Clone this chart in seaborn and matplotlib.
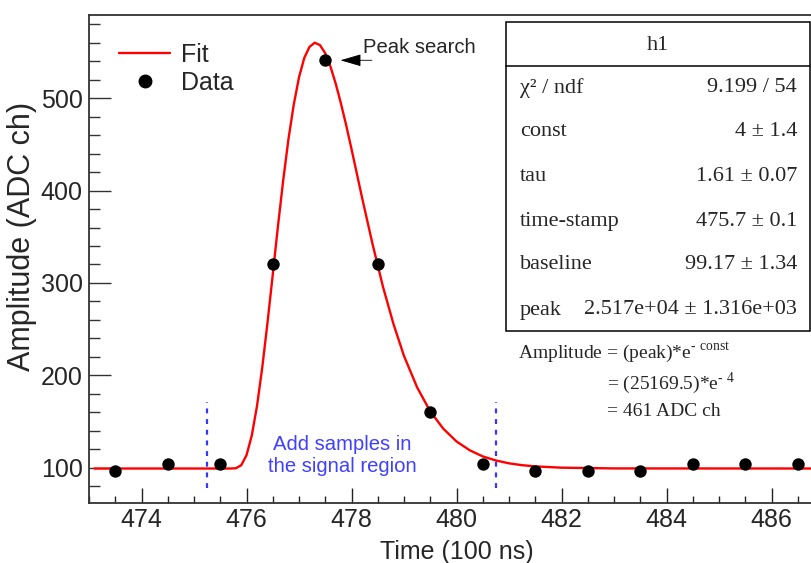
import matplotlib
matplotlib.use("Agg")
import matplotlib.pyplot as plt
import seaborn as sns
from matplotlib.patches import Rectangle
from matplotlib.lines import Line2D
from matplotlib.ticker import MultipleLocator

# ---------------- data ----------------
time_samples = [473.5, 474.5, 475.5, 476.5, 477.5, 478.5, 479.5,
                480.5, 481.5, 482.5, 483.5, 484.5, 485.5, 486.5]
amplitude_samples = [96, 104, 104, 320, 541, 320, 160,
                     104, 96, 96, 96, 104, 104, 104]

fit_time = [473.1, 475.7, 475.8, 475.9, 476.0, 476.1, 476.2, 476.3, 476.4,
            476.5, 476.6, 476.7, 476.8, 476.9, 477.0, 477.1, 477.2, 477.3,
            477.4, 477.5, 477.6, 477.7, 477.8, 477.9, 478.0, 478.2, 478.4,
            478.6, 478.8, 479.0, 479.25, 479.5, 479.75, 480.0, 480.25, 480.5,
            480.75, 481.0, 481.25, 481.5, 482.0, 483.0, 487.0]
fit_amplitude = [99.2, 99.2, 99.5, 102.8, 113.6, 134.7, 166.8, 208.5, 257,
                 309, 362, 411.5, 456, 493, 522.5, 543.5, 555.5, 560,
                 557.4, 548.6, 534, 515.6, 494, 470.4, 445, 392.6, 342.3,
                 295.8, 255.5, 221, 187, 161, 142.2, 128.5, 119, 112.3,
                 107.9, 104.8, 102.8, 101.5, 100.1, 99.3, 99.2]

window_edges = [475.25, 480.75]
window_range = [78, 171]

stat_labels = ["χ² / ndf", "const", "tau", "time-stamp", "baseline", "peak"]
stat_values = ["9.199 / 54", "4 ± 1.4", "1.61 ± 0.07", "475.7 ± 0.1",
               "99.17 ± 1.34", "2.517e+04 ± 1.316e+03"]
stats_title = "h1"

amp_lines = ["Amplitude = (peak)*e$^{\\mathregular{\u2010\\ const}}$",
             "= (25169.5)*e$^{\\mathregular{\u2010\\ 4}}$",
             "= 461 ADC ch"]

# ---------------- style ----------------
sns.set_style("white")
plt.rcParams["font.family"] = ["Liberation Sans", "DejaVu Sans"]
plt.rcParams["mathtext.fontset"] = "custom"
plt.rcParams["mathtext.rm"] = "Liberation Serif"

W, H = 811, 563
fig = plt.figure(figsize=(W / 100, H / 100), dpi=100)
ax_left, ax_bottom_px, ax_top_px = 89, 502.7, 15
ax = fig.add_axes([ax_left / W, (H - ax_bottom_px) / H, 735 / W,
                   (ax_bottom_px - ax_top_px) / H])

sns.lineplot(x=fit_time, y=fit_amplitude, color="red", lw=1.7, ax=ax,
             sort=False, legend=False)
sns.scatterplot(x=time_samples, y=amplitude_samples, color="black", s=80,
                linewidth=0, ax=ax, legend=False, zorder=3)

for xe in window_edges:
    ax.plot([xe, xe], window_range, color="#3535ff", lw=1.6,
            ls=(0, (2.2, 2.6)))

ax.set_xlim(473, 487)
ax.set_ylim(62.2, 590)

ax.xaxis.set_major_locator(MultipleLocator(2))
ax.xaxis.set_minor_locator(MultipleLocator(0.5))
ax.yaxis.set_major_locator(MultipleLocator(100))
ax.yaxis.set_minor_locator(MultipleLocator(20))
ax.tick_params(axis="x", which="major", direction="in", length=11, width=1,
               labelsize=18, pad=4, top=False, bottom=True, color="#222222")
ax.tick_params(axis="x", which="minor", direction="in", length=5.4, width=1,
               top=False, bottom=True, color="#222222")
ax.tick_params(axis="y", which="major", direction="in", length=16, width=1,
               labelsize=18, pad=4.5, right=False, left=True, color="#333333")
ax.tick_params(axis="y", which="minor", direction="in", length=8, width=1,
               right=False, left=True, color="#333333")
for sp in ax.spines.values():
    sp.set_linewidth(1.3)
    sp.set_color("#333333")
ax.grid(False)

ax.set_xlabel("Time (100 ns)", fontsize=18, labelpad=5.6)
ax.set_ylabel("Amplitude (ADC ch)", fontsize=22)
ax.yaxis.set_label_coords(-0.0707, 0.545)

# legend
handles = [Line2D([], [], color="red", lw=1.7),
           Line2D([], [], marker="o", ls="", color="black", markersize=9)]
ax.legend(handles, ["Fit", "Data"], loc="upper left",
          bbox_to_anchor=(0.0408, 0.943), frameon=False, fontsize=18,
          handlelength=2.05, handletextpad=0.43, labelspacing=0.17,
          borderpad=0, borderaxespad=0)

# peak search arrow
ax.annotate("", xy=(477.79, 541), xytext=(478.39, 541),
            arrowprops=dict(arrowstyle="-|>,head_length=1.3,head_width=0.38",
                            color="black", lw=0.6, shrinkA=0, shrinkB=0,
                            mutation_scale=10))
ax.text(478.22, 554.6, "Peak search", fontsize=14.6, ha="left", va="center")

# signal-region text
ax.text(477.82, 113.5, "Add samples in\nthe signal region", fontsize=14.6,
        color="#4040ff", ha="center", va="center", linespacing=1.22)

# stats box
def fx(px):
    return px / W


def fy(py):
    return 1 - py / H


box_l, box_r, box_t, box_b = 505.7, 810, 22, 331
fig.add_artist(Rectangle((fx(box_l), fy(box_b)), fx(box_r) - fx(box_l),
                         fy(box_t) - fy(box_b), transform=fig.transFigure,
                         fill=False, ec="black", lw=1.1))
fig.add_artist(Line2D([fx(box_l), fx(box_r)], [fy(66), fy(66)],
                      transform=fig.transFigure, color="black", lw=1.1))
serif = ["Liberation Serif", "DejaVu Serif"]
fig.text(fx(658), fy(46), stats_title, family=serif, fontsize=16,
         ha="center", va="center")
row_y = [88, 132, 177, 221.7, 265, 310]
for lab, val, yy in zip(stat_labels, stat_values, row_y):
    fig.text(fx(520), fy(yy), lab, family=serif, fontsize=16,
             ha="left", va="center")
    fig.text(fx(797), fy(yy), val, family=serif, fontsize=16,
             ha="right", va="center")

amp_pos = [(518, 353), (607, 383), (607, 412)]
for txt, (px, py) in zip(amp_lines, amp_pos):
    fig.text(fx(px), fy(py), txt, family=serif, fontsize=14,
             ha="left", va="center")

fig.savefig("out.png", dpi=100)
